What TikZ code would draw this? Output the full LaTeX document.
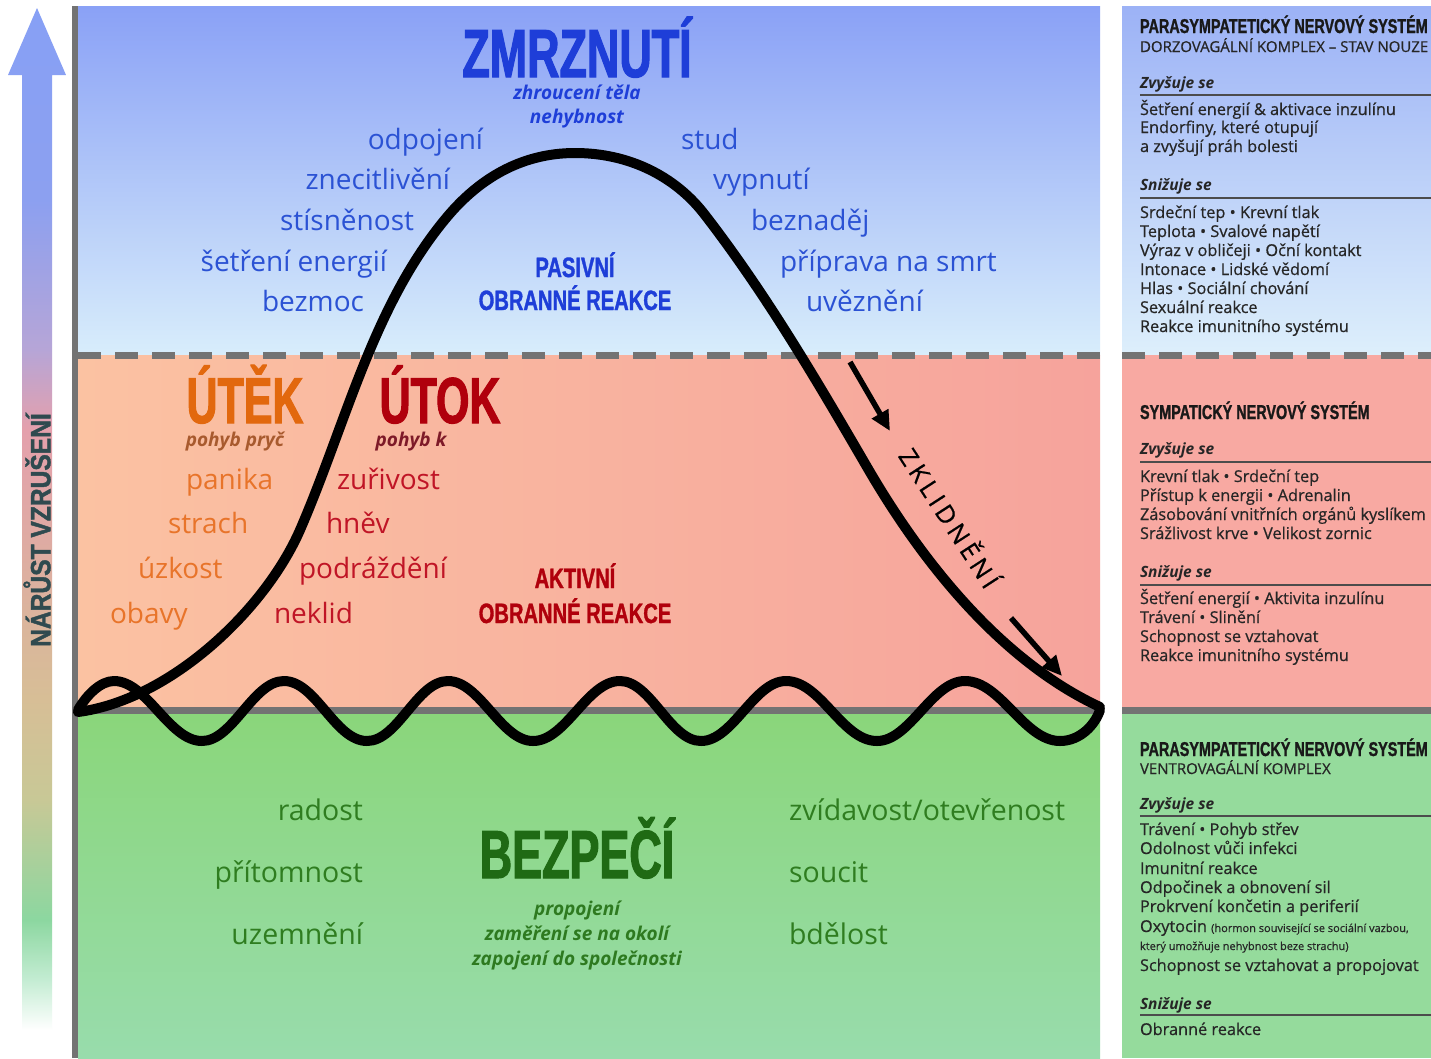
\documentclass[tikz,border=0pt]{standalone}
\usepackage{fontspec}
\setmainfont{Open Sans}
\newfontfamily\hf[FakeStretch=0.72,FakeBold=1.2]{Liberation Sans}
\newfontfamily\hfa[FakeStretch=0.66,FakeBold=1.6]{Liberation Sans}
\newfontfamily\pf[FakeBold=0.6]{Open Sans}
\usetikzlibrary{arrows.meta}
\definecolor{zblue}{HTML}{1E3ED8}
\definecolor{wblue}{HTML}{2B52D4}
\definecolor{uorange}{HTML}{E2680E}
\definecolor{wor}{HTML}{E8742A}
\definecolor{pbrown}{HTML}{A85A2E}
\definecolor{ured}{HTML}{B0000C}
\definecolor{wred}{HTML}{C01526}
\definecolor{pdred}{HTML}{7E1A28}
\definecolor{bgreen}{HTML}{1F6A14}
\definecolor{wgreen}{HTML}{2F7D20}
\definecolor{igreen}{HTML}{2E7A20}
\definecolor{linegray}{HTML}{737373}
\definecolor{ptext}{HTML}{262626}
\definecolor{slate}{HTML}{2F4A4F}
\definecolor{blueTop}{HTML}{8AA1F6}
\definecolor{blueBot}{HTML}{D8EDFB}
\definecolor{redL}{HTML}{FBC2A2}
\definecolor{redR}{HTML}{F6A39C}
\definecolor{greenT}{HTML}{8AD67A}
\definecolor{greenB}{HTML}{98DCAC}
\definecolor{pblueTop}{HTML}{9CB2F6}
\definecolor{pblueBot}{HTML}{DDEFFB}
\definecolor{pred}{HTML}{F8A9A2}
\definecolor{pgreen}{HTML}{95DB9C}
\definecolor{ar1}{RGB}{195,236,210}
\definecolor{ar2}{RGB}{140,215,160}
\definecolor{ar3}{RGB}{200,200,150}
\definecolor{ar4}{RGB}{215,190,150}
\definecolor{ar5}{RGB}{222,172,162}
\definecolor{ar6}{RGB}{228,160,172}
\definecolor{ar7}{RGB}{182,165,215}
\definecolor{ar8}{RGB}{140,160,240}
\definecolor{ar9}{RGB}{135,160,245}
\pgfdeclareverticalshading{arrowshade}{100bp}{color(0bp)=(white); color(25bp)=(white); color(27.5bp)=(ar1); color(30.4bp)=(ar2); color(36.3bp)=(ar3); color(41.2bp)=(ar4); color(48.5bp)=(ar5); color(54.4bp)=(ar6); color(58.3bp)=(ar7); color(65.6bp)=(ar8); color(75bp)=(ar9); color(100bp)=(ar9)}
\tikzset{
  every node/.style={inner sep=0pt, outer sep=0pt},
  wordb/.style={font=\fontsize{28}{30}\selectfont, text=wblue},
  wordo/.style={font=\fontsize{28}{30}\selectfont, text=wor},
  wordr/.style={font=\fontsize{28}{30}\selectfont, text=wred},
  wordg/.style={font=\fontsize{28.5}{30}\selectfont, text=wgreen},
  bighead/.style={font=\hfa\bfseries\fontsize{68}{70}\selectfont, anchor=base},
  midhead/.style={font=\hfa\bfseries\fontsize{65}{66}\selectfont, anchor=base},
  smallhead/.style={font=\hf\bfseries\fontsize{28}{30}\selectfont, anchor=base},
  subit/.style={font=\bfseries\itshape\fontsize{19}{22}\selectfont, anchor=base},
  phead/.style={font=\hf\bfseries\fontsize{20}{22}\selectfont, text=black!90, anchor=base west},
  psub/.style={font=\pf\fontsize{15}{17}\selectfont, text=ptext, anchor=base west},
  pz/.style={font=\bfseries\itshape\fontsize{15.5}{17}\selectfont, text=ptext, anchor=base west},
  pline/.style={font=\pf\fontsize{16.3}{18}\selectfont, text=ptext, anchor=base west},
  psmall/.style={font=\pf\fontsize{11}{12}\selectfont, text=ptext, anchor=base west},
  prule/.style={draw=black!70, line width=1.6pt},
  bandline/.style={draw=linegray, line width=7pt},
  curve/.style={draw=black, line width=10pt, line join=round, line cap=round},
  calmarrow/.style={draw=black, line width=5.5pt, -{Triangle[length=20pt,width=18pt]}}
}
\begin{document}
\begin{tikzpicture}[x=1pt,y=-1pt]
\useasboundingbox (0,0) rectangle (1431,1058);
\fill[white] (0,0) rectangle (1431,1058);
% main bands
\shade[top color=blueTop, bottom color=blueBot] (78,6) rectangle (1100,355);
\shade[left color=redL, right color=redR] (78,355) rectangle (1100,710);
\shade[top color=greenT, bottom color=greenB] (78,710) rectangle (1100,1058);
\fill[linegray] (72,6) rectangle (78,1058);
% right panel bands
\shade[top color=pblueTop, bottom color=pblueBot] (1122,6) rectangle (1431,355);
\fill[pred] (1122,355) rectangle (1431,710);
\fill[pgreen] (1122,710) rectangle (1431,1058);
% separators
\draw[bandline, dash pattern=on 23pt off 14pt] (78,355) -- (1100,355);
\draw[bandline, dash pattern=on 23pt off 14pt] (1122,355) -- (1431,355);
\draw[bandline] (78,710) -- (1100,710);
\draw[bandline] (1122,710) -- (1431,710);
% left arousal arrow
\shade[shading=arrowshade] (37,8) -- (66,75) -- (52,75) -- (52,1030) -- (22,1030) -- (22,75) -- (8,75) -- cycle;
\node[font=\hf\bfseries\fontsize{28}{30}\selectfont, text=slate, rotate=90] (arousal) at (37,530) {\scalebox{1.22}[1]{NÁRŮST VZRUŠENÍ}};
% wave
\draw[curve] (78,710) .. controls (86,696) and (100,681) .. (114,681)
  .. controls (147,681) and (169,741) .. (202,741)
  .. controls (233,741) and (253,681) .. (284,681)
  .. controls (316,681) and (335,741) .. (367,741)
  .. controls (398,741) and (417,681) .. (448,681)
  .. controls (480,681) and (501,741) .. (533,741)
  .. controls (566,741) and (587,681) .. (620,681)
  .. controls (651,681) and (670,741) .. (701,741)
  .. controls (733,741) and (754,681) .. (786,681)
  .. controls (821,681) and (842,741) .. (877,741)
  .. controls (910,741) and (932,681) .. (965,681)
  .. controls (1001,681) and (1024,741) .. (1060,741)
  .. controls (1080,741) and (1095,725) .. (1100,710);
% bell curve
\draw[curve] (78,712) .. controls (170,700) and (265,610) .. (300,530)
  .. controls (346,424) and (373,305) .. (447,217)
  .. controls (478,180) and (520,153) .. (575,153)
  .. controls (630,153) and (676,177) .. (705,215)
  .. controls (766,294) and (817,381) .. (867,467)
  .. controls (922,562) and (1001,661) .. (1100,707);
% calming arrows
\coordinate (a1s) at (850,362);
\coordinate (a1e) at (890,431);
\coordinate (a2s) at (1011,618);
\coordinate (a2e) at (1062,676);
\draw[calmarrow] (a1s) -- (a1e);
\draw[calmarrow] (a2s) -- (a2e);
\node[font=\pf\addfontfeatures{LetterSpace=17}\fontsize{25}{26}\selectfont, rotate=-57] (calm) at (951,517) {ZKLIDNĚNÍ};
% freeze
\node[bighead, text=zblue] (freeze) at (577,77) {ZMRZNUTÍ};
\node[subit, text=zblue] (freeze1) at (577,99) {zhroucení těla};
\node[subit, text=zblue] (freeze2) at (577,123) {nehybnost};
\node[wordb, anchor=base east] (b1) at (483,149) {odpojení};
\node[wordb, anchor=base east] (b2) at (450,189) {znecitlivění};
\node[wordb, anchor=base east] (b3) at (414,230) {stísněnost};
\node[wordb, anchor=base east] (b4) at (387,271) {šetření energií};
\node[wordb, anchor=base east] (b5) at (364,311) {bezmoc};
\node[wordb, anchor=base west] (b6) at (681,149) {stud};
\node[wordb, anchor=base west] (b7) at (713,189) {vypnutí};
\node[wordb, anchor=base west] (b8) at (751,230) {beznaděj};
\node[wordb, anchor=base west] (b9) at (780,271) {příprava na smrt};
\node[wordb, anchor=base west] (b10) at (806,311) {uvěznění};
\node[smallhead, text=zblue] (pas1) at (575,277) {PASIVNÍ};
\node[smallhead, text=zblue] (pas2) at (575,310) {OBRANNÉ REAKCE};
% flight / fight
\node[midhead, text=uorange] (flight) at (245,423) {ÚTĚK};
\node[subit, text=pbrown] (flight1) at (235,446) {pohyb pryč};
\node[midhead, text=ured] (fight) at (440,423) {ÚTOK};
\node[subit, text=pdred] (fight1) at (411,446) {pohyb k};
\node[wordo, anchor=base west] (o1) at (186,489) {panika};
\node[wordo, anchor=base west] (o2) at (168,533) {strach};
\node[wordo, anchor=base west] (o3) at (138,578) {úzkost};
\node[wordo, anchor=base west] (o4) at (110,623) {obavy};
\node[wordr, anchor=base west] (r1) at (337,489) {zuřivost};
\node[wordr, anchor=base west] (r2) at (326,533) {hněv};
\node[wordr, anchor=base west] (r3) at (299,578) {podráždění};
\node[wordr, anchor=base west] (r4) at (274,623) {neklid};
\node[smallhead, text=ured] (akt1) at (575,588) {AKTIVNÍ};
\node[smallhead, text=ured] (akt2) at (575,623) {OBRANNÉ REAKCE};
% safety
\node[bighead, text=bgreen] (safe) at (577,878) {BEZPEČÍ};
\node[subit, text=igreen] (safe1) at (577,915) {propojení};
\node[subit, text=igreen] (safe2) at (577,940) {zaměření se na okolí};
\node[subit, text=igreen] (safe3) at (577,965) {zapojení do společnosti};
\node[wordg, anchor=base east] (g1) at (363,820) {radost};
\node[wordg, anchor=base east] (g2) at (363,882) {přítomnost};
\node[wordg, anchor=base east] (g3) at (363,944) {uzemnění};
\node[wordg, anchor=base west] (g4) at (789,820) {zvídavost/otevřenost};
\node[wordg, anchor=base west] (g5) at (789,882) {soucit};
\node[wordg, anchor=base west] (g6) at (789,944) {bdělost};
% right panel: dorsal vagal
\node[phead] (h1) at (1140,33) {PARASYMPATETICKÝ NERVOVÝ SYSTÉM};
\node[psub] (h1s) at (1140,52) {DORZOVAGÁLNÍ KOMPLEX – STAV NOUZE};
\node[pz] (z1) at (1140,88) {Zvyšuje se};
\draw[prule] (1140,95) -- (1431,95);
\node[pline] (l11) at (1140,115) {Šetření energií \& aktivace inzulínu};
\node[pline] (l12) at (1140,133) {Endorfiny, které otupují};
\node[pline] (l13) at (1140,152) {a zvyšují práh bolesti};
\node[pz] (s1) at (1140,190) {Snižuje se};
\draw[prule] (1140,198) -- (1431,198);
\node[pline] (l14) at (1140,218) {Srdeční tep • Krevní tlak};
\node[pline] (l15) at (1140,237) {Teplota • Svalové napětí};
\node[pline] (l16) at (1140,256) {Výraz v obličeji • Oční kontakt};
\node[pline] (l17) at (1140,275) {Intonace • Lidské vědomí};
\node[pline] (l18) at (1140,294) {Hlas • Sociální chování};
\node[pline] (l19) at (1140,313) {Sexuální reakce};
\node[pline] (l110) at (1140,332) {Reakce imunitního systému};
% sympathetic
\node[phead] (h2) at (1140,419) {SYMPATICKÝ NERVOVÝ SYSTÉM};
\node[pz] (z2) at (1140,454) {Zvyšuje se};
\draw[prule] (1140,462) -- (1431,462);
\node[pline] (l21) at (1140,482) {Krevní tlak • Srdeční tep};
\node[pline] (l22) at (1140,501) {Přístup k energii • Adrenalin};
\node[pline] (l23) at (1140,520) {Zásobování vnitřních orgánů kyslíkem};
\node[pline] (l24) at (1140,539) {Srážlivost krve • Velikost zornic};
\node[pz] (s2) at (1140,577) {Snižuje se};
\draw[prule] (1140,585) -- (1431,585);
\node[pline] (l25) at (1140,604) {Šetření energií • Aktivita inzulínu};
\node[pline] (l26) at (1140,623) {Trávení • Slinění};
\node[pline] (l27) at (1140,642) {Schopnost se vztahovat};
\node[pline] (l28) at (1140,661) {Reakce imunitního systému};
% ventral vagal
\node[phead] (h3) at (1140,756) {PARASYMPATETICKÝ NERVOVÝ SYSTÉM};
\node[psub] (h3s) at (1140,774) {VENTROVAGÁLNÍ KOMPLEX};
\node[pz] (z3) at (1140,809) {Zvyšuje se};
\draw[prule] (1140,816) -- (1431,816);
\node[pline] (l31) at (1140,835) {Trávení • Pohyb střev};
\node[pline] (l32) at (1140,854) {Odolnost vůči infekci};
\node[pline] (l33) at (1140,874) {Imunitní reakce};
\node[pline] (l34) at (1140,893) {Odpočinek a obnovení sil};
\node[pline] (l35) at (1140,912) {Prokrvení končetin a periferií};
\node[pline] (l36) at (1140,932) {Oxytocin {\fontsize{11}{12}\selectfont (hormon související se sociální vazbou,}};
\node[psmall] (l37) at (1140,950) {který umožňuje nehybnost beze strachu)};
\node[pline] (l38) at (1140,971) {Schopnost se vztahovat a propojovat};
\node[pz] (s3) at (1140,1009) {Snižuje se};
\draw[prule] (1140,1015) -- (1431,1015);
\node[pline] (l39) at (1140,1035) {Obranné reakce};
\end{tikzpicture}
\end{document}
